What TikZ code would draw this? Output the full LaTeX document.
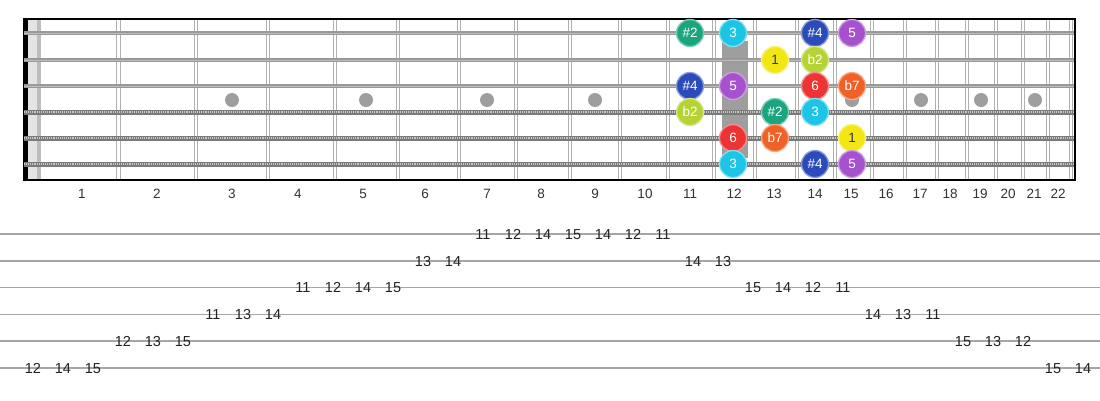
\documentclass[tikz,border=0pt]{standalone}
\usepackage{fontspec}
\setmainfont{Liberation Sans}
\definecolor{fretgray}{HTML}{B0B0B0}
\definecolor{strgray}{HTML}{999999}
\definecolor{strlight}{HTML}{BDBDBD}
\definecolor{wgray}{HTML}{7A7A7A}
\definecolor{wlight}{HTML}{C8C8C8}
\definecolor{dotgray}{HTML}{9E9E9E}
\definecolor{nutlight}{HTML}{E4E4E4}
\definecolor{nutdark}{HTML}{BDBDBD}
\definecolor{labgray}{HTML}{333333}
\definecolor{tabgray}{HTML}{A6A6A6}
\definecolor{tabtext}{HTML}{222222}
\definecolor{cSharpTwo}{HTML}{1AA57E}
\definecolor{cThree}{HTML}{1CC4E6}
\definecolor{cSharpFour}{HTML}{2C4BBB}
\definecolor{cFive}{HTML}{A652CE}
\definecolor{cOne}{HTML}{F2E714}
\definecolor{cFlatTwo}{HTML}{B5D334}
\definecolor{cSix}{HTML}{EC3434}
\definecolor{cFlatSeven}{HTML}{F06127}
\begin{document}
\begin{tikzpicture}[x=1pt,y=-1pt,
  fretl/.style={draw=fretgray, line width=1.1pt},
  plainstr/.style={draw=strgray, line width=3.4pt, postaction={draw=strlight, line width=0.8pt}},
  woundstr/.style={draw=wgray, line width=5pt, postaction={draw=wlight, line width=2.8pt, dash pattern=on 0.9pt off 1pt}},
  dotm/.style={circle, fill=dotgray, minimum size=14pt, inner sep=0pt},
  note/.style={circle, minimum size=27pt, inner sep=0pt, text=white, line width=1.3pt, font=\fontsize{13.5}{15}\selectfont, text height=9.7pt, text depth=0pt},
  fretnum/.style={font=\fontsize{13.5}{15}\selectfont, text=labgray, inner sep=0pt, text height=9.7pt, text depth=0pt},
  tabnum/.style={font=\fontsize{14.5}{16}\selectfont, text=tabtext, inner sep=0pt, text height=10.4pt, text depth=0pt},
  tabline/.style={draw=tabgray, line width=1.7pt}]
\useasboundingbox (0,0) rectangle (1100,400);
\fill[white] (0,0) rectangle (1100,400);

% nut
\fill[nutlight] (28,19) rectangle (37,180);
\fill[nutdark] (37,19) rectangle (41,180);

% frets (double lines)
\foreach \fx in {118.5,196,268,335,398,459,516,570,620,668,714,755,797,835,872,905,937,967,996,1023,1048,1071}{
  \draw[fretl] (\fx-1.6,19) -- (\fx-1.6,180);
  \draw[fretl] (\fx+1.6,19) -- (\fx+1.6,180);
}

% 12th fret marker
\fill[dotgray] (722,41) rectangle (748,158);

% position dots
\foreach \dx in {232,366,487,595,852,921,981,1035}{
  \node[dotm] at (\dx,100) {};
}

% frame
\fill[black] (23,19) rectangle (28,180);
\draw[black, line width=1.8pt] (23,19) -- (1075,19);
\draw[black, line width=1.8pt] (23,180) -- (1075,180);
\draw[black, line width=2.2pt] (1075,18.1) -- (1075,180.9);

% strings
\foreach \sy in {33,60,86}{
  \draw[plainstr] (24,\sy) -- (1074,\sy);
}
\foreach \sy in {112,138,164}{
  \draw[woundstr] (24,\sy) -- (1074,\sy);
}

% fret numbers
\foreach \lx [count=\i] in {82,157,232,298,363,425,487,541,595,645,690,734,774,815,851,886,920,950,980,1008,1034,1058}{
  \node[fretnum] (fn\i) at (\lx,194) {\i};
}

% scale notes
\node[note, fill=cSharpTwo, draw=cSharpTwo!55!white] (s1a) at (690,33) {\#2};
\node[note, fill=cThree, draw=cThree!55!white] (s1b) at (733,33) {3};
\node[note, fill=cSharpFour, draw=cSharpFour!55!white] (s1c) at (815,33) {\#4};
\node[note, fill=cFive, draw=cFive!55!white] (s1d) at (852,33) {5};

\node[note, fill=cOne, draw=cOne!55!white, text=labgray] (s2a) at (775,60) {1};
\node[note, fill=cFlatTwo, draw=cFlatTwo!55!white] (s2b) at (815,60) {b2};

\node[note, fill=cSharpFour, draw=cSharpFour!55!white] (s3a) at (690,86) {\#4};
\node[note, fill=cFive, draw=cFive!55!white] (s3b) at (733,86) {5};
\node[note, fill=cSix, draw=cSix!55!white] (s3c) at (815,86) {6};
\node[note, fill=cFlatSeven, draw=cFlatSeven!55!white] (s3d) at (852,86) {b7};

\node[note, fill=cFlatTwo, draw=cFlatTwo!55!white] (s4a) at (690,112) {b2};
\node[note, fill=cSharpTwo, draw=cSharpTwo!55!white] (s4b) at (775,112) {\#2};
\node[note, fill=cThree, draw=cThree!55!white] (s4c) at (815,112) {3};

\node[note, fill=cSix, draw=cSix!55!white] (s5a) at (733,138) {6};
\node[note, fill=cFlatSeven, draw=cFlatSeven!55!white] (s5b) at (775,138) {b7};
\node[note, fill=cOne, draw=cOne!55!white, text=labgray] (s5c) at (852,138) {1};

\node[note, fill=cThree, draw=cThree!55!white] (s6a) at (733,164) {3};
\node[note, fill=cSharpFour, draw=cSharpFour!55!white] (s6b) at (815,164) {\#4};
\node[note, fill=cFive, draw=cFive!55!white] (s6c) at (852,164) {5};

% tab lines
\foreach \r in {1,...,6}{
  \draw[tabline] (0,{234+(\r-1)*26.8}) -- (1100,{234+(\r-1)*26.8});
}

% tab numbers
\foreach \k/\r/\t in {0/6/12,1/6/14,2/6/15,3/5/12,4/5/13,5/5/15,6/4/11,7/4/13,8/4/14,9/3/11,10/3/12,11/3/14,12/3/15,13/2/13,14/2/14,15/1/11,16/1/12,17/1/14,18/1/15,19/1/14,20/1/12,21/1/11,22/2/14,23/2/13,24/3/15,25/3/14,26/3/12,27/3/11,28/4/14,29/4/13,30/4/11,31/5/15,32/5/13,33/5/12,34/6/15,35/6/14}{
  \node[tabnum] (t\k) at ({33+30*\k},{234+(\r-1)*26.8}) {\t};
}
\end{tikzpicture}
\end{document}
